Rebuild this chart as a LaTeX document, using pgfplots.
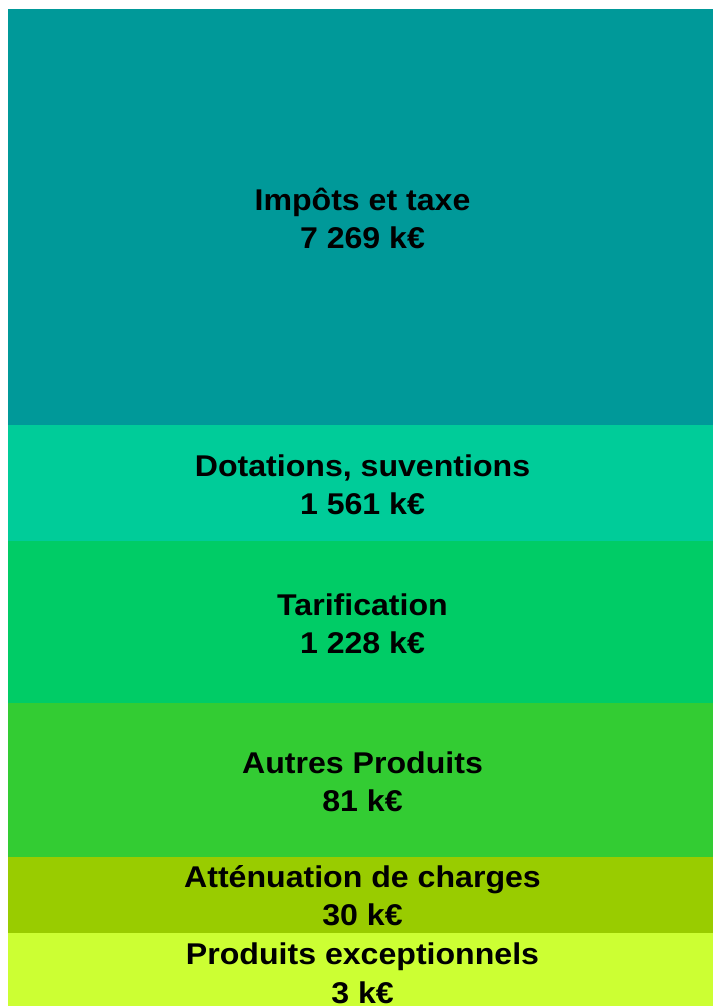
\documentclass[border=0pt]{standalone}
\usepackage{fontspec}
\setmainfont{Liberation Sans}
\usepackage{pgfplots}
\pgfplotsset{compat=1.18}

% palette
\definecolor{cImpots}{HTML}{009999}
\definecolor{cDot}{HTML}{00CC99}
\definecolor{cTarif}{HTML}{00CC66}
\definecolor{cAutres}{HTML}{33CC33}
\definecolor{cAtten}{HTML}{99CC00}
\definecolor{cExcep}{HTML}{CCFF33}

\tikzset{lbl/.style={font=\fontsize{15}{19}\selectfont\bfseries, anchor=base, inner sep=0pt, text=black, xshift=1pt}}
\newcommand\wide[1]{\scalebox{1.07}[1]{#1}}

\begin{document}
\begin{tikzpicture}
\useasboundingbox[fill=white] (0,0) rectangle (356.5pt,503pt);
\begin{axis}[
  at={(4pt,0pt)},
  anchor=south west,
  scale only axis,
  width=352.5pt,
  height=498.5pt,
  xmin=0, xmax=1,
  ymin=0, ymax=997,
  hide axis,
  ybar stacked,
  bar width=352.5pt,
  clip=false,
  every axis plot/.append style={draw=none}
]
% segment heights, bottom to top
\addplot[fill=cExcep]   coordinates {(0.5,73)};
\addplot[fill=cAtten]   coordinates {(0.5,76)};
\addplot[fill=cAutres]  coordinates {(0.5,154)};
\addplot[fill=cTarif]   coordinates {(0.5,162)};
\addplot[fill=cDot]     coordinates {(0.5,116)};
\addplot[fill=cImpots]  coordinates {(0.5,416)};

\coordinate (a1) at (axis cs:0.5,795);
\coordinate (a2) at (axis cs:0.5,757);
\coordinate (b1) at (axis cs:0.5,529);
\coordinate (b2) at (axis cs:0.5,491);
\coordinate (c1) at (axis cs:0.5,390);
\coordinate (c2) at (axis cs:0.5,352);
\coordinate (d1) at (axis cs:0.5,232);
\coordinate (d2) at (axis cs:0.5,194);
\coordinate (e1) at (axis cs:0.5,118);
\coordinate (e2) at (axis cs:0.5,80);
\coordinate (f1) at (axis cs:0.5,41);
\coordinate (f2) at (axis cs:0.5,3);
\end{axis}
\node[lbl] at (a1) {\wide{Impôts et taxe}};
\node[lbl] at (a2) {\wide{7 269 k€}};
\node[lbl] at (b1) {\wide{Dotations, suventions}};
\node[lbl] at (b2) {\wide{1 561 k€}};
\node[lbl] at (c1) {\wide{Tarification}};
\node[lbl] at (c2) {\wide{1 228 k€}};
\node[lbl] at (d1) {\wide{Autres Produits}};
\node[lbl] at (d2) {\wide{81 k€}};
\node[lbl] at (e1) {\wide{Atténuation de charges}};
\node[lbl] at (e2) {\wide{30 k€}};
\node[lbl] at (f1) {\wide{Produits exceptionnels}};
\node[lbl] at (f2) {\wide{3 k€}};
\end{tikzpicture}
\end{document}
